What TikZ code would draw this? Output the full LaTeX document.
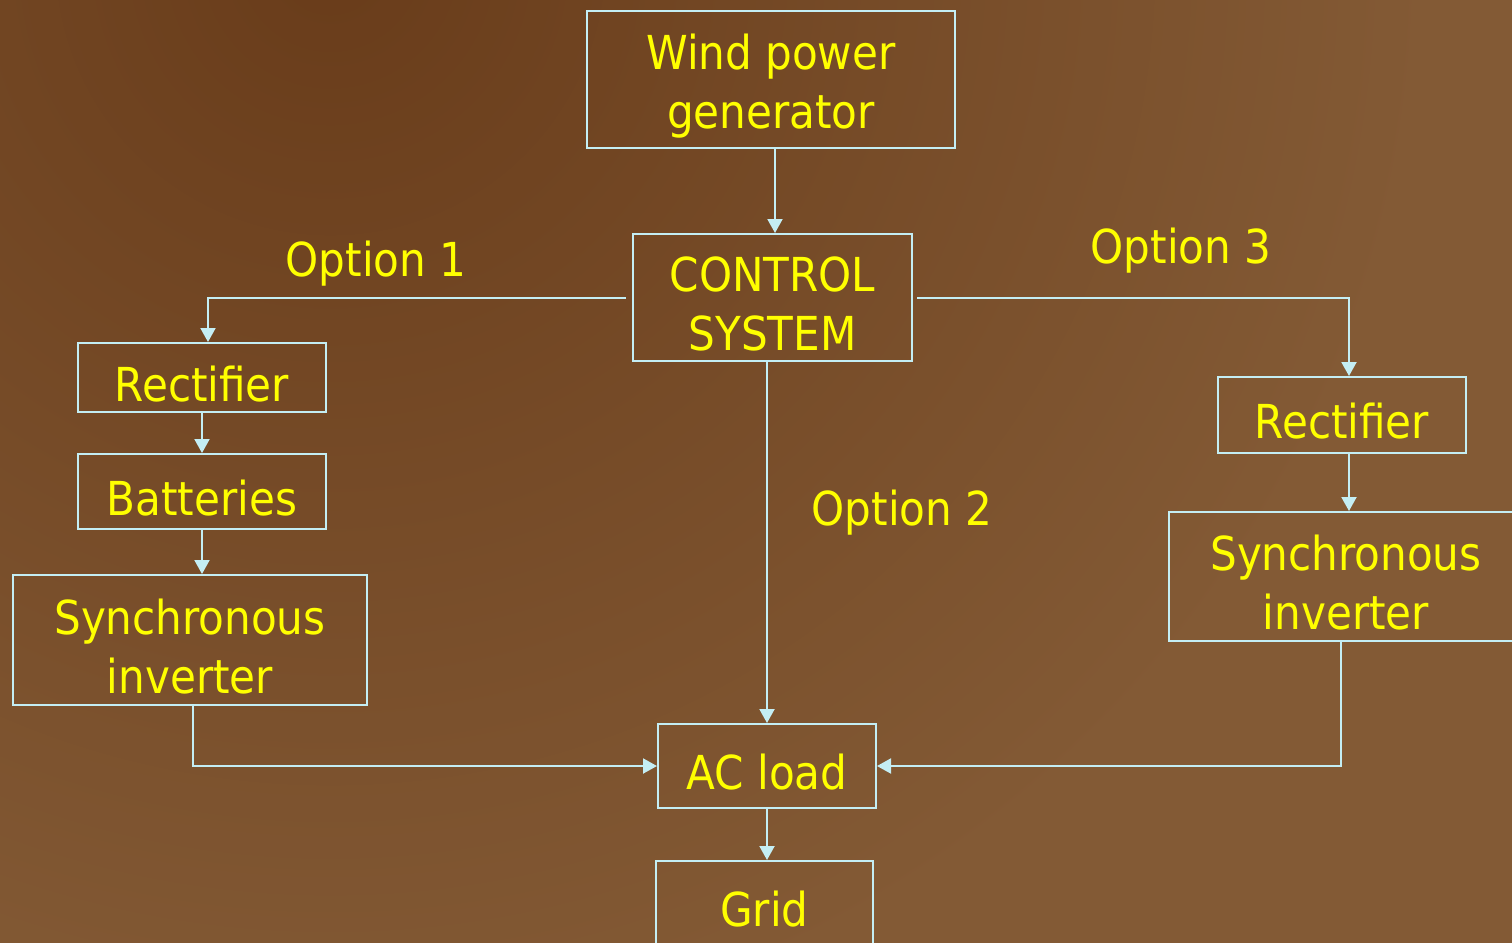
\documentclass[tikz,border=0pt]{standalone}
\usepackage{fontspec}
\setmainfont{DejaVu Sans Condensed}
\usepackage{tikz}
\usetikzlibrary{arrows.meta,positioning}
\definecolor{bgdark}{HTML}{693C1A}
\definecolor{bglight}{HTML}{835A35}
\definecolor{wire}{HTML}{C4EEF4}
\definecolor{txt}{HTML}{FFFF00}
\newcommand{\topstrut}{\rule{0pt}{24pt}}
\tikzset{
  sbox/.style={draw=wire, line width=1pt, text=txt, align=center, font=\fontsize{23.4}{29.5}\selectfont, inner sep=0pt},
  sarr/.style={draw=wire, line width=1pt, -{Triangle[length=7pt,width=7.5pt]}},
  optlbl/.style={text=txt, font=\fontsize{23.4}{29.5}\selectfont}
}

\begin{document}
\begin{tikzpicture}[x=0.5pt,y=-0.5pt]
\path[use as bounding box, fill=bglight] (0,0) rectangle (1512,943);
\begin{scope}
  \clip (0,0) rectangle (1512,943);
  \shade[inner color=bgdark, outer color=bglight] (330,-40) circle (1100);
\end{scope}
% boxes
\node[sbox, minimum width=184pt, minimum height=68.5pt] (wind) at (771,79.5) {\topstrut Wind power\\generator};
\node[sbox, minimum width=139.5pt, minimum height=63.5pt] (ctrl) at (772.5,297.5) {\topstrut CONTROL\\SYSTEM};
\node[sbox, minimum width=124pt, minimum height=34.5pt] (rectL) at (202,377.5) {\topstrut Rectifier};
\node[sbox, minimum width=124pt, minimum height=37.5pt] (batt) at (202,491.5) {\topstrut Batteries};
\node[sbox, minimum width=177pt, minimum height=65pt] (syncL) at (190,640) {\topstrut Synchronous\\inverter};
\node[sbox, minimum width=124pt, minimum height=38pt] (rectR) at (1342,415) {\topstrut Rectifier};
\node[sbox, minimum width=177pt, minimum height=64.5pt] (syncR) at (1346,576.5) {\topstrut Synchronous\\inverter};
\node[sbox, minimum width=109pt, minimum height=42pt] (acload) at (767,766) {\topstrut AC load};
\node[sbox, minimum width=108.5pt, minimum height=42pt] (grid) at (764.5,903) {\topstrut Grid};
% option labels
\node[optlbl] (opt1) at (376,264) {Option 1};
\node[optlbl] (opt2) at (902,513) {Option 2};
\node[optlbl] (opt3) at (1181,251) {Option 3};
% connectors
\draw[sarr] ([xshift=2pt]wind.south) -- ([xshift=2pt]wind.south |- ctrl.north);
\draw[sarr, shorten <=3pt] (ctrl.west) -| ([xshift=3pt]rectL.north);
\draw[sarr] ([xshift=2pt]ctrl.east) -| ([xshift=3.5pt]rectR.north);
\draw[sarr] (rectL.south) -- (batt.north);
\draw[sarr] (batt.south) -- (batt.south |- syncL.north);
\draw[sarr] ([xshift=3.5pt]rectR.south) -- ([xshift=3.5pt]rectR.south |- syncR.north);
\draw[sarr] (acload.north |- ctrl.south) -- (acload.north);
\draw[sarr] ([xshift=1.5pt]syncL.south) |- (acload.west);
\draw[sarr] ([xshift=-2.5pt]syncR.south) |- (acload.east);
\draw[sarr] (acload.south) -- (acload.south |- grid.north);
\end{tikzpicture}
\end{document}
